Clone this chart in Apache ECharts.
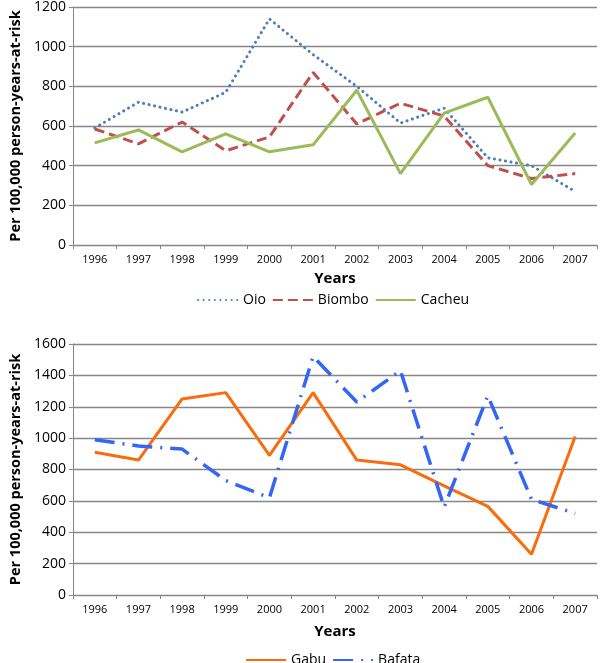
<!DOCTYPE html>
<html><head><meta charset="utf-8">
<script src="https://cdn.jsdelivr.net/npm/echarts@6/dist/echarts.min.js"></script>
<style>html,body{margin:0;padding:0;background:#fff}#c{width:600px;height:663px}</style>
</head><body><div id="c"></div>
<script>
const years = ['1996','1997','1998','1999','2000','2001','2002','2003','2004','2005','2006','2007'];
const oio =    [590, 720, 670, 770, 1140, 960, 800, 615, 690, 440, 400, 270];
const biombo = [585, 510, 620, 475, 545, 870, 610, 715, 650, 400, 335, 360];
const cacheu = [515, 580, 470, 560, 470, 505, 780, 360, 665, 745, 305, 565];
const gabu =   [910, 860, 1250, 1290, 890, 1290, 860, 830, 695, 565, 260, 1010];
const bafata = [990, 950, 930, 730, 620, 1520, 1230, 1430, 560, 1270, 610, 520];

const font = 'Open Sans, Liberation Sans, sans-serif';
const yTitle = 'Per 100,000 person-years-at-risk';
function xAxis(idx, gap){
  return {type:'category', gridIndex:idx, data:years, boundaryGap:true,
    name:'Years', nameLocation:'middle', nameGap:gap,
    nameTextStyle:{fontFamily:font, fontWeight:'bold', fontSize:15, color:'#000'},
    axisLine:{lineStyle:{color:'#868686', width:1}},
    axisTick:{show:true, length:4, lineStyle:{color:'#868686'}},
    axisLabel:{fontFamily:font, fontSize:11, color:'#000', margin:9}};
}
function yAxis(idx, max){
  return {type:'value', gridIndex:idx, min:0, max:max, interval:200,
    name:yTitle, nameLocation:'middle', nameGap:42, nameRotate:90,
    nameTextStyle:{fontFamily:font, fontWeight:'bold', fontSize:14.5, color:'#000'},
    axisLine:{show:true, lineStyle:{color:'#868686', width:1}},
    axisTick:{show:true, length:4, lineStyle:{color:'#868686'}},
    splitLine:{lineStyle:{color:'#868686', width:1.3}},
    axisLabel:{fontFamily:font, fontSize:14, color:'#000', margin:7, formatter:(v)=>String(v)}};
}
function s(name, data, color, type, idx, w, cap){
  return {name, type:'line', data, xAxisIndex:idx, yAxisIndex:idx, symbol:'none',
    lineStyle:{color, width:w, type, cap:cap||'butt'}, itemStyle:{color}, animation:false};
}
const chart = echarts.init(document.getElementById('c'));
const legendBase = {itemWidth:40, itemHeight:10, itemGap:6,
  itemStyle:{opacity:0}, textStyle:{fontFamily:font, fontSize:14, color:'#000'}};
chart.setOption({
  animation:false,
  grid:[{left:62, right:3, top:4, height:241}, {left:62, right:3, top:344, height:251}],
  xAxis:[xAxis(0,26), xAxis(1,29)],
  yAxis:[yAxis(0,1200), yAxis(1,1600)],
  legend:[
    Object.assign({data:['Oio','Biombo','Cacheu'], top:288, left:192}, legendBase),
    Object.assign({data:['Gabu','Bafata'], top:648, left:240}, legendBase)
  ],
  series:[
    s('Oio', oio, '#4a7ebb', [0.1,5.5], 0, 3, 'round'),
    s('Biombo', biombo, '#c0504d', [10,5], 0, 3),
    s('Cacheu', cacheu, '#9bbb59', 'solid', 0, 3),
    s('Gabu', gabu, '#f96b0b', 'solid', 1, 3),
    s('Bafata', bafata, '#3366f5', [20,8,2,8], 1, 3.5)
  ]
});
</script></body></html>
